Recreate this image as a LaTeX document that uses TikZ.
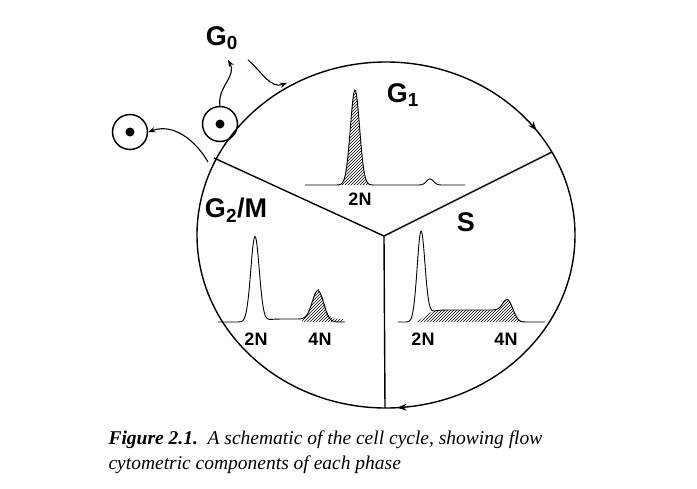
\documentclass[tikz,border=0pt]{standalone}
\usepackage{fontspec}
\setmainfont{Liberation Serif}
\newfontfamily\lblfont{Liberation Sans}
\usetikzlibrary{patterns,arrows.meta,decorations.markings}
\tikzset{
  phase/.style={font=\lblfont\bfseries\fontsize{27}{27}\selectfont},
  ploidy/.style={font=\lblfont\bfseries\fontsize{18}{18}\selectfont},
  cell/.style={circle,draw,line width=1.5pt,minimum size=35pt,inner sep=0pt},
  hist/.style={line width=0.9pt},
  hatch/.style={pattern=north east lines},
  flow/.style={line width=1.1pt,-{Stealth[length=7pt]}}
}
\begin{document}
\begin{tikzpicture}[x=1pt,y=-1pt]
\useasboundingbox (0,0) rectangle (697,488);
% cycle wheel
\coordinate (c) at (384,236);
\draw[line width=1.4pt,
  postaction={decorate,decoration={markings,
    mark=at position 0.15 with {\arrow{Stealth[length=9pt]}},
    mark=at position 0.49 with {\arrow{Stealth[length=9pt]}}}}]
  (386,62) arc[start angle=-90,end angle=270,x radius=189,y radius=173];
\coordinate (tl) at (214,158);
\coordinate (tr) at (552,152);
\coordinate (bt) at (385,408);
\draw[line width=1.4pt] (c) -- (tl) (c) -- (tr) (c) -- (bt);
% labels
\node[phase] (g0) at (222,38) {G\textsubscript{0}};
\node[phase] (g1) at (403,95) {G\textsubscript{1}};
\node[phase] (g2m) at (236,210) {G\textsubscript{2}/M};
\node[phase] (s) at (466,222) {S};
% cells
\node[cell] (cellA) at (130,132) {};
\fill (cellA) circle (4.5pt);
\node[cell] (cellB) at (220,124) {};
\fill (cellB) circle (4.5pt);
\coordinate (entry) at (287,83);
\draw[flow] (cellB.north) to[out=100,in=-60] (228,60);
\draw[flow] (248,60) to[out=-40,in=-160] (entry);
\draw[flow] (tl) ++(-6,4) to[out=120,in=20] (cellA.east);
% G1 histogram
\fill[hatch] plot[domain=338:372,samples=60] (\x,{185-95*exp(-((\x-355)/6.5)^2)}) -- (372,185) -- (338,185) -- cycle;
\draw[hist] plot[domain=305:465,samples=200] (\x,{185-95*exp(-((\x-355)/6.5)^2)-6*exp(-((\x-430)/5)^2)});
\node[ploidy] (g1n) at (360,199) {2N};
% G2/M histogram
\fill[hatch] plot[domain=302:343,samples=60] (\x,{322-3-30*exp(-((\x-318)/8)^2)}) -- (343,322) -- (302,322) -- cycle;
\draw[hist] plot[domain=218:345,samples=200] (\x,{322-85*exp(-((\x-255)/6)^2)-3*exp(-((\x-290)/30)^4)-30*exp(-((\x-318)/8)^2)});
\node[ploidy] (g2a) at (256,339) {2N};
\node[ploidy] (g2b) at (320,339) {4N};
% S histogram
\fill[hatch] plot[domain=418:530,samples=120] (\x,{322-12*exp(-((\x-468)/45)^8)-14*exp(-((\x-508)/7)^2)}) -- (530,322) -- (418,322) -- cycle;
\draw[hist] plot[domain=398:545,samples=220] (\x,{322-88*exp(-((\x-421)/5.5)^2)-12*exp(-((\x-468)/45)^8)-14*exp(-((\x-508)/7)^2)});
\node[ploidy] (sa) at (423,339) {2N};
\node[ploidy] (sb) at (506,339) {4N};
% caption
\node[anchor=west,font=\fontsize{19.5}{25}\selectfont\itshape,align=left] (cap) at (105,452)
  {\textbf{Figure 2.1.}\ \ A schematic of the cell cycle, showing flow\\cytometric components of each phase};
\end{tikzpicture}
\end{document}
